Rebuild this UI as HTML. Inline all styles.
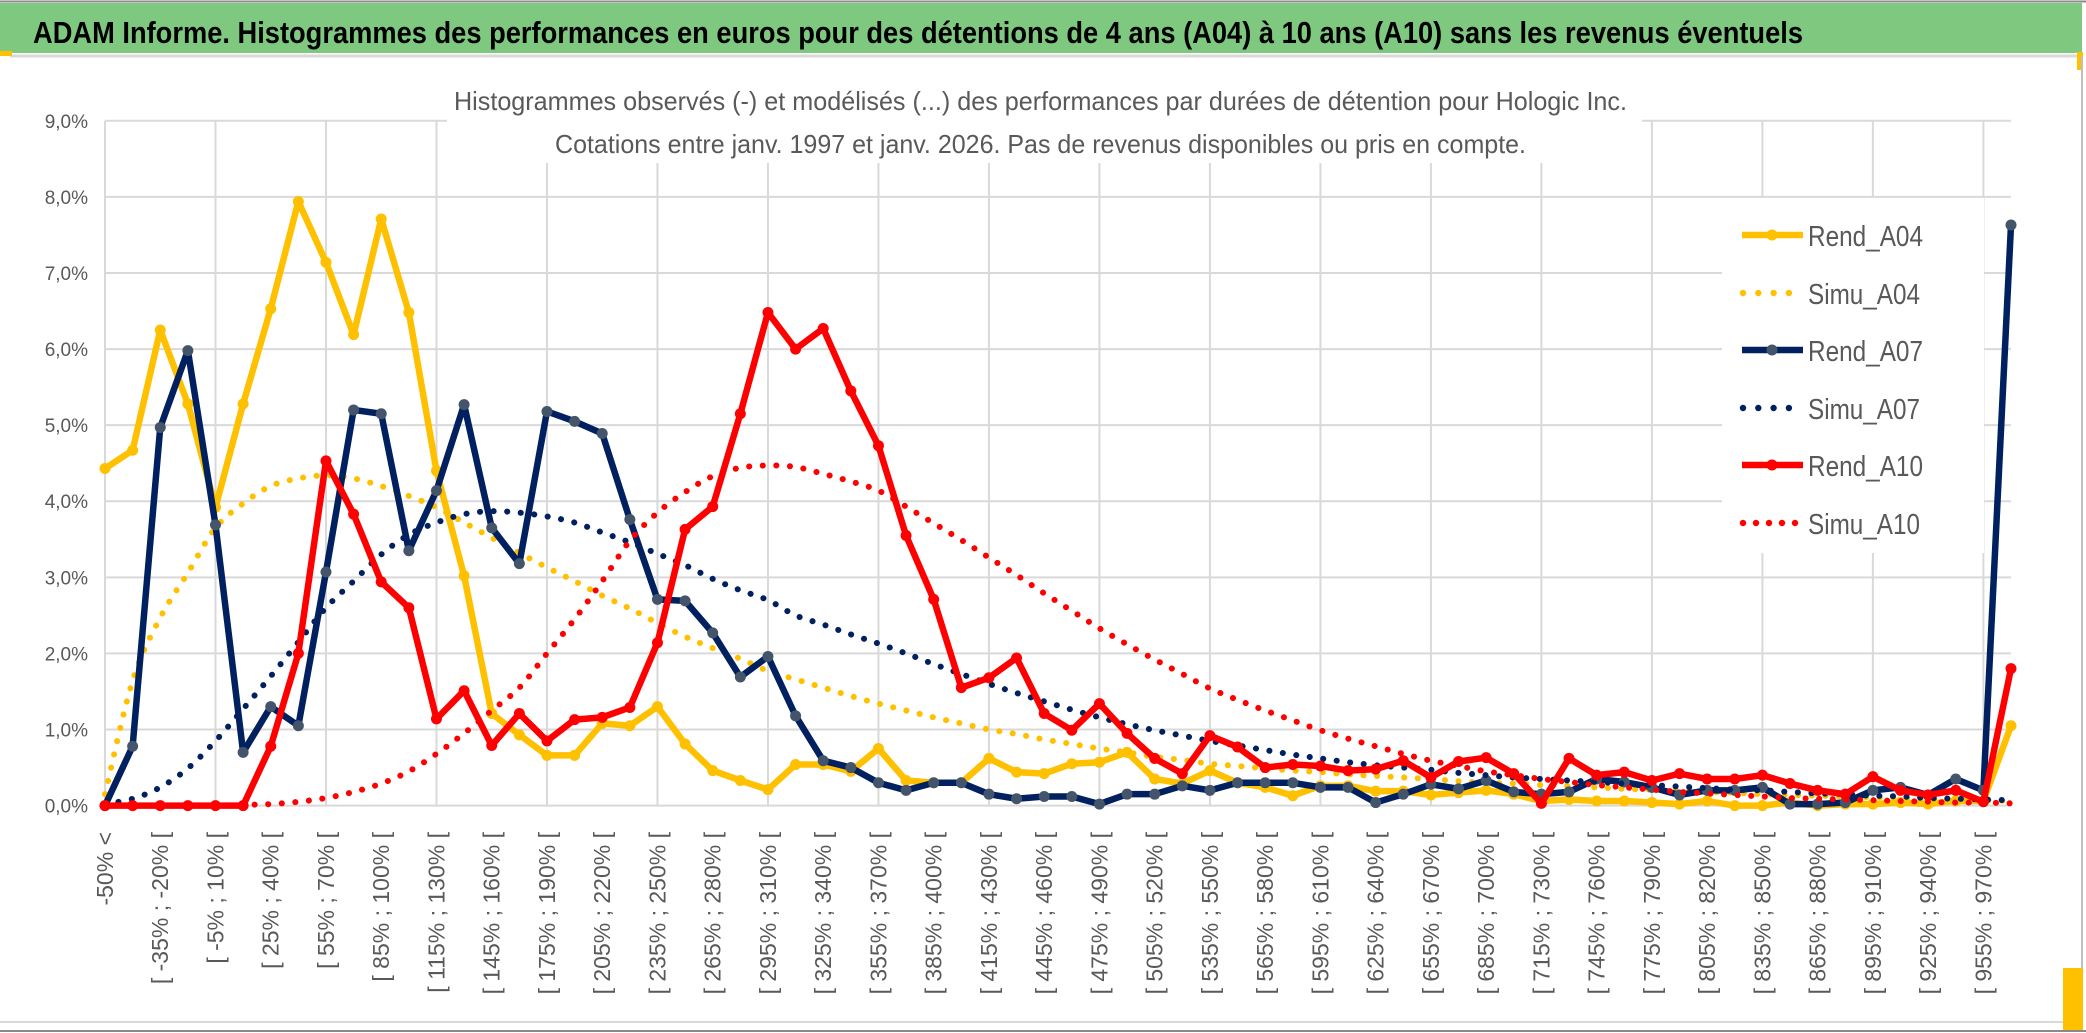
<!DOCTYPE html>
<html><head><meta charset="utf-8">
<style>
html,body{margin:0;padding:0;background:#fff;}
svg{display:block;font-family:"Liberation Sans",sans-serif;}
</style></head>
<body>
<svg id="chart" width="2086" height="1033" viewBox="0 0 2086 1033" xmlns="http://www.w3.org/2000/svg">
  <rect x="0" y="0" width="2086" height="1033" fill="#fff"/>
  <line x1="0" y1="1.5" x2="2086" y2="1.5" stroke="#8a8a8a" stroke-width="2"/>
  <rect x="0" y="3" width="2082" height="50" fill="#7ec97f"/>
  <text x="33" y="43" font-size="31" font-weight="bold" fill="#000" textLength="1770" lengthAdjust="spacingAndGlyphs">ADAM Informe. Histogrammes des performances en euros pour des détentions de 4 ans (A04) à 10 ans (A10) sans les revenus éventuels</text>
  <line x1="10" y1="56" x2="2082" y2="56" stroke="#d9d9d9" stroke-width="3"/>
  <rect x="0" y="51" width="12" height="5" fill="#FFC000"/>
  <rect x="2077" y="52" width="6" height="18" fill="#FFC000"/>
  <line x1="2082" y1="56" x2="2082" y2="1030" stroke="#bfbfbf" stroke-width="2"/>
  <line x1="0" y1="1022" x2="2082" y2="1022" stroke="#d9d9d9" stroke-width="2"/>
  <line x1="0" y1="1031" x2="2086" y2="1031" stroke="#8a8a8a" stroke-width="2"/>
  <rect x="2063" y="968" width="20" height="62" fill="#FFC000"/>
  <g id="grid"></g>
  <g id="yaxis"></g>
  <g id="xaxis"></g>
  <g id="series"></g>
  <rect x="447" y="70" width="1195" height="93" fill="#fff"/>
  <text x="454" y="110" font-size="26" fill="#595959" textLength="1173" lengthAdjust="spacingAndGlyphs">Histogrammes observés (-) et modélisés (...) des performances par durées de détention pour Hologic Inc.</text>
  <text x="555" y="153" font-size="26" fill="#595959" textLength="971" lengthAdjust="spacingAndGlyphs">Cotations entre janv. 1997 et janv. 2026. Pas de revenus disponibles ou pris en compte.</text>
  <g id="legend"></g>
</svg>
<script>
// ---- data (percent values per bin) ----
var rendA04 = [4.43,4.67,6.25,5.28,3.92,5.28,6.53,7.94,7.14,6.19,7.71,6.48,4.40,3.02,1.21,0.93,0.66,0.66,1.08,1.05,1.30,0.81,0.46,0.33,0.21,0.54,0.54,0.45,0.75,0.33,0.30,0.30,0.62,0.44,0.42,0.55,0.57,0.70,0.35,0.29,0.46,0.30,0.24,0.13,0.26,0.26,0.19,0.19,0.14,0.17,0.20,0.15,0.06,0.08,0.06,0.06,0.04,0.02,0.06,0,0,0.04,0,0.02,0.02,0.04,0.02,0.06,0.06,1.05];
var simuA04 = [0.15,1.64,2.47,3.06,3.65,3.97,4.20,4.30,4.34,4.30,4.20,4.07,3.92,3.72,3.52,3.32,3.13,2.95,2.76,2.59,2.40,2.22,2.07,1.93,1.77,1.66,1.55,1.44,1.34,1.25,1.16,1.08,1.00,0.94,0.87,0.81,0.75,0.70,0.64,0.60,0.55,0.52,0.49,0.46,0.44,0.41,0.39,0.37,0.35,0.32,0.30,0.29,0.27,0.26,0.24,0.22,0.21,0.20,0.18,0.17,0.15,0.14,0.13,0.12,0.11,0.10,0.09,0.08,0.07,0.06];
var rendA07 = [0,0.78,4.97,5.98,3.69,0.70,1.30,1.05,3.07,5.20,5.15,3.35,4.14,5.27,3.65,3.18,5.18,5.05,4.89,3.76,2.71,2.69,2.27,1.69,1.96,1.18,0.59,0.50,0.30,0.20,0.30,0.30,0.15,0.09,0.12,0.12,0.02,0.15,0.15,0.26,0.20,0.30,0.30,0.30,0.24,0.24,0.04,0.15,0.28,0.22,0.33,0.18,0.15,0.18,0.35,0.31,0.24,0.14,0.20,0.20,0.24,0.02,0.02,0.04,0.20,0.24,0.14,0.35,0.20,7.63];
var simuA07 = [0.02,0.09,0.24,0.49,0.85,1.27,1.70,2.15,2.60,2.95,3.30,3.56,3.72,3.83,3.87,3.85,3.80,3.72,3.59,3.46,3.31,3.16,2.98,2.83,2.70,2.50,2.38,2.25,2.13,2.00,1.86,1.73,1.60,1.48,1.37,1.26,1.16,1.07,0.99,0.92,0.85,0.79,0.73,0.67,0.62,0.57,0.53,0.50,0.47,0.43,0.40,0.37,0.35,0.33,0.31,0.29,0.27,0.25,0.23,0.21,0.20,0.18,0.16,0.15,0.13,0.12,0.10,0.09,0.08,0.07];
var rendA10 = [0,0,0,0,0,0,0.78,2.00,4.53,3.83,2.94,2.60,1.14,1.51,0.79,1.21,0.85,1.13,1.16,1.29,2.14,3.63,3.93,5.15,6.48,6.00,6.27,5.45,4.73,3.55,2.71,1.55,1.68,1.94,1.21,0.99,1.34,0.95,0.62,0.42,0.92,0.77,0.50,0.54,0.52,0.46,0.48,0.59,0.37,0.58,0.63,0.42,0.03,0.62,0.40,0.44,0.33,0.42,0.35,0.35,0.40,0.29,0.20,0.15,0.38,0.20,0.14,0.20,0.05,1.80];
var simuA10 = [0,0,0,0,0,0.01,0.02,0.05,0.10,0.18,0.29,0.45,0.68,0.95,1.25,1.55,2.00,2.45,2.95,3.48,3.85,4.12,4.33,4.44,4.47,4.45,4.36,4.26,4.14,3.93,3.71,3.49,3.26,3.03,2.79,2.56,2.33,2.12,1.92,1.73,1.54,1.39,1.25,1.12,0.99,0.88,0.78,0.68,0.59,0.52,0.45,0.40,0.35,0.31,0.27,0.24,0.21,0.18,0.16,0.14,0.12,0.10,0.09,0.08,0.07,0.06,0.05,0.04,0.04,0.03];
var yTicks = [0,1,2,3,4,5,6,7,8,9];
var yTickLabels = ["0,0%","1,0%","2,0%","3,0%","4,0%","5,0%","6,0%","7,0%","8,0%","9,0%"];
var binStart = -50;
var binStep = 15;
var binCount = 70;
var seriesNames = ["Rend_A04","Simu_A04","Rend_A07","Simu_A07","Rend_A10","Simu_A10"];

var categories = [];
for (var c = 0; c < binCount; c++) {
  if (c === 0) categories.push(binStart + "% <");
  else { var lo = binStart + binStep * (c - 1); categories.push("[ " + lo + "% ; " + (lo + binStep) + "% ["); }
}

var NS = "http://www.w3.org/2000/svg";
var PL = 105, PR = 2011, PT = 120.8, PB = 805.6, YMAX = 9;
function xPos(i) { return PL + (PR - PL) * i / (categories.length - 1); }
function yPos(v) { return PB - (PB - PT) * v / YMAX; }
function mk(tag, attrs, parent) {
  var e = document.createElementNS(NS, tag);
  for (var k in attrs) e.setAttribute(k, attrs[k]);
  parent.appendChild(e);
  return e;
}

var grid = document.getElementById("grid");
for (var t = 0; t < yTicks.length; t++) {
  var gl = mk("line", {x1: PL, x2: PR, y1: yPos(yTicks[t]), y2: yPos(yTicks[t]), stroke: "#d9d9d9", "stroke-width": 2}, grid);
  
  
}
for (var g = 0; g < categories.length; g += 4) {
  var vl = mk("line", {x1: xPos(g), x2: xPos(g), y1: PT, y2: PB, stroke: "#d9d9d9", "stroke-width": 2}, grid);
  
  
}

var yaxis = document.getElementById("yaxis");
for (var t2 = 0; t2 < yTicks.length; t2++) {
  var yl = mk("text", {x: 88, y: yPos(yTicks[t2]) + 7, "text-anchor": "end", "font-size": 19, fill: "#595959"}, yaxis);
  yl.textContent = yTickLabels[t2];
  
  
}

var xaxis = document.getElementById("xaxis");
for (var i = 0; i < categories.length - 1; i += 2) {
  var xx = xPos(i) + 8;
  var xl = mk("text", {x: xx, y: 832, "text-anchor": "end", "font-size": 23, fill: "#595959", transform: "rotate(-90 " + xx + " 832)"}, xaxis);
  xl.textContent = categories[i];
  
  
}

function pts(arr) { var p = []; for (var j = 0; j < arr.length; j++) p.push([xPos(j), yPos(arr[j])]); return p; }
function straight(p) { var d = "M" + p[0][0] + "," + p[0][1]; for (var j = 1; j < p.length; j++) d += "L" + p[j][0] + "," + p[j][1]; return d; }
function smooth(p) {
  var d = "M" + p[0][0] + "," + p[0][1];
  for (var j = 0; j < p.length - 1; j++) {
    var p0 = p[j - 1] || p[j], p1 = p[j], p2 = p[j + 1], p3 = p[j + 2] || p2;
    var c1x = p1[0] + (p2[0] - p0[0]) / 6, c1y = p1[1] + (p2[1] - p0[1]) / 6;
    var c2x = p2[0] - (p3[0] - p1[0]) / 6, c2y = p2[1] - (p3[1] - p1[1]) / 6;
    d += "C" + c1x + "," + c1y + " " + c2x + "," + c2y + " " + p2[0] + "," + p2[1];
  }
  return d;
}

var sg = document.getElementById("series");
function drawRend(arr, color, mcolor, name) {
  var g = mk("g", {}, sg);
  
  
  var p = pts(arr);
  var path = mk("path", {d: straight(p), fill: "none", stroke: color, "stroke-width": 6.5, "stroke-linejoin": "round"}, g);
  
  
  for (var j = 0; j < p.length; j++) {
    var m = mk("circle", {cx: p[j][0], cy: p[j][1], r: 5.5, fill: mcolor}, g);
    
    
  }
}
function drawSimu(arr, color, name) {
  var p = pts(arr);
  var path = mk("path", {d: smooth(p), fill: "none", stroke: color, "stroke-width": 6, "stroke-linecap": "round", "stroke-dasharray": "0.1 13.5"}, sg);
  
  
}
drawRend(rendA04, "#FFC000", "#FFC000", "rend-a04-series");
drawSimu(simuA04, "#FFC000", "simu-a04-series");
drawRend(rendA07, "#002060", "#44546A", "rend-a07-series");
drawSimu(simuA07, "#002060", "simu-a07-series");
drawRend(rendA10, "#FF0000", "#FF0000", "rend-a10-series");
drawSimu(simuA10, "#FF0000", "simu-a10-series");

var lg = document.getElementById("legend");
var bg = mk("rect", {x: 1722, y: 198, width: 262, height: 355, fill: "#fff"}, lg);


var legColors = ["#FFC000","#FFC000","#002060","#002060","#FF0000","#FF0000"];
var legMarker = ["#FFC000","","#44546A","","#FF0000",""];
var legY = [235, 293, 350, 408, 465, 523];
for (var k = 0; k < seriesNames.length; k++) {
  var e = mk("g", {}, lg);
  
  
  var yy = legY[k];
  if (k % 2 === 0) {
    mk("line", {x1: 1742, x2: 1803, y1: yy, y2: yy, stroke: legColors[k], "stroke-width": 6.5}, e);
    mk("circle", {cx: 1772, cy: yy, r: 5.5, fill: legMarker[k]}, e);
  } else {
    var n = (k === 5) ? 5 : 4, sp = (k === 5) ? 13 : 15.3;
    for (var q = 0; q < n; q++) mk("circle", {cx: 1743 + q * sp, cy: yy, r: 3.2, fill: legColors[k]}, e);
  }
  var lt = mk("text", {x: 1808, y: yy + 11, "font-size": 29, fill: "#595959", textLength: (k % 2 === 0) ? 115 : 112, lengthAdjust: "spacingAndGlyphs"}, e);
  lt.textContent = seriesNames[k];
}
</script>
</body></html>
